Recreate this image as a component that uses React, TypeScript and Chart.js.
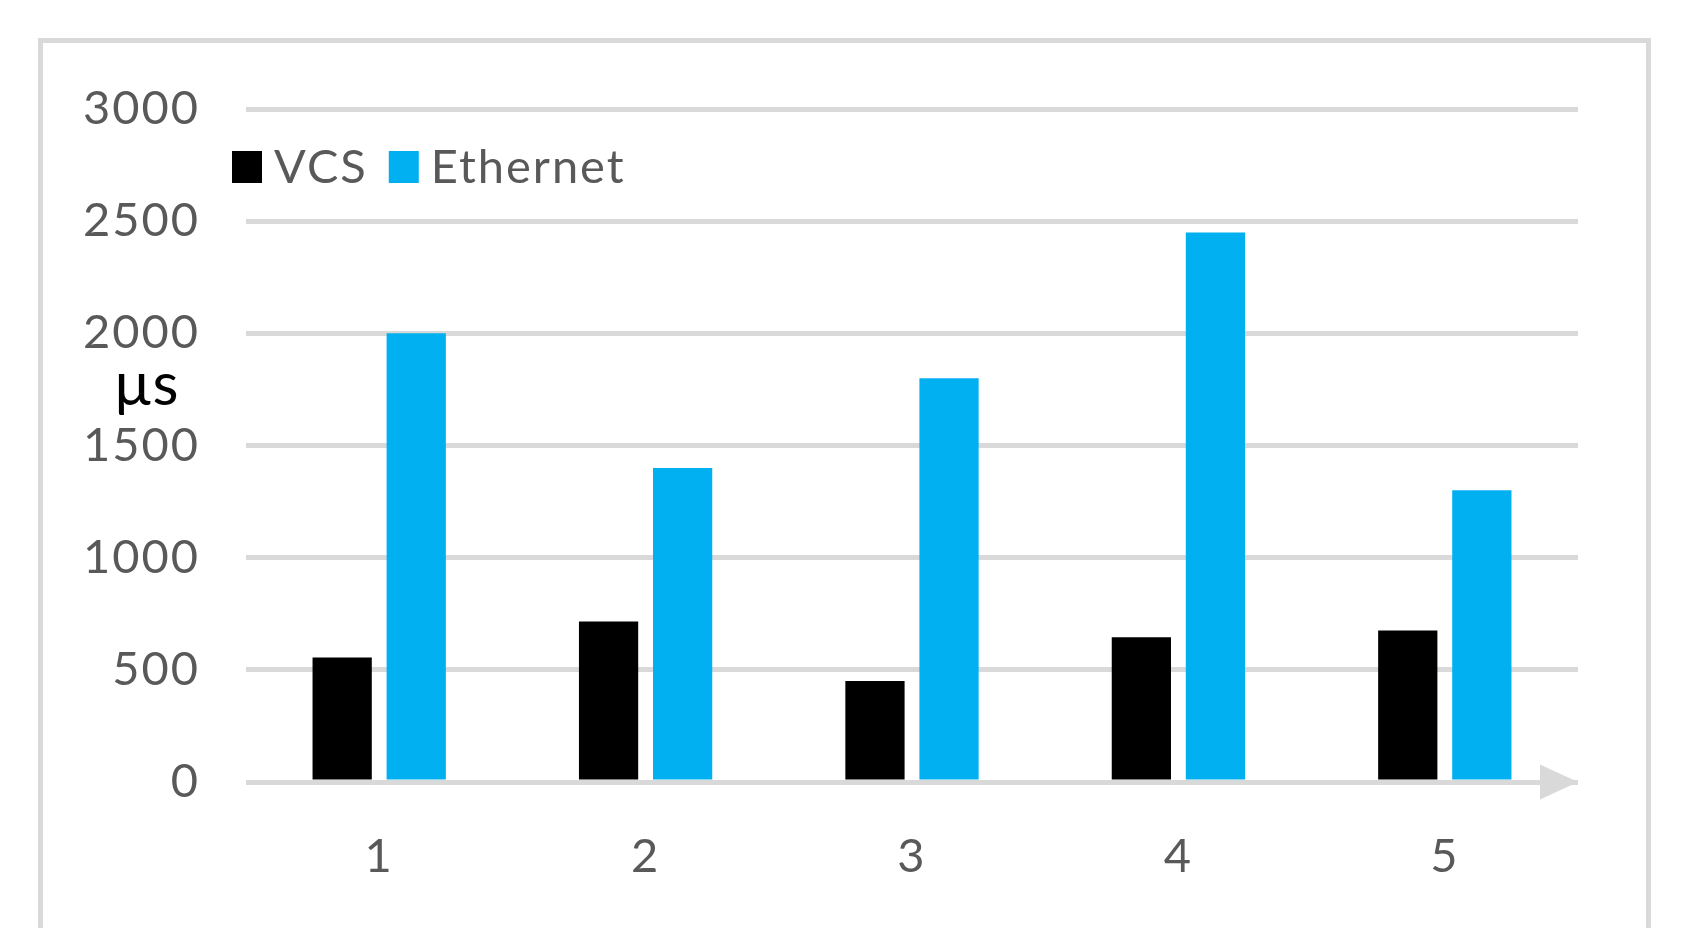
import React, { useEffect, useRef } from "react";
import { Chart, registerables } from "chart.js";

Chart.register(...registerables);

const categories = ["1", "2", "3", "4", "5"];
const vcsValues = [555, 715, 450, 645, 675];
const ethernetValues = [2000, 1400, 1800, 2450, 1300];
const seriesNames = ["VCS", "Ethernet"];
const seriesColors = ["#000000", "#00B0F0"];
const yMin = 0;
const yMax = 3000;
const yStep = 500;
const yAxisTitle = "µs";

const FONT = "Lato, 'Open Sans', sans-serif";
const GRID = "#d9d9d9";
const TEXT = "#595959";

const overlayPlugin = {
  id: "overlay",
  beforeDraw(chart: any) {
    const ctx = chart.ctx as any;
    ctx.letterSpacing = "2px";
  },
  beforeDatasetsDraw(chart: any) {
    const { ctx, chartArea, scales } = chart;
    const y0 = scales.y.getPixelForValue(0);
    ctx.save();
    ctx.fillStyle = GRID;
    ctx.beginPath();
    ctx.moveTo(chartArea.right, y0);
    ctx.lineTo(chartArea.right - 38, y0 - 17.5);
    ctx.lineTo(chartArea.right - 38, y0 + 17.5);
    ctx.closePath();
    ctx.fill();
    ctx.restore();
  },
  afterDraw(chart: any) {
    const { chartArea } = chart;
    const ctx = chart.ctx as any;
    ctx.save();
    // legend
    ctx.font = `47px ${FONT}`;
    ctx.letterSpacing = "2px";
    ctx.textBaseline = "middle";
    ctx.textAlign = "left";
    let x = chartArea.left - 14;
    const cy = chartArea.top + 58;
    chart.data.datasets.forEach((ds: any) => {
      ctx.fillStyle = ds.backgroundColor;
      ctx.fillRect(x, cy - 16, 30, 32);
      x += 30 + 12;
      ctx.fillStyle = TEXT;
      ctx.fillText(ds.label, x, cy + 1);
      x += ctx.measureText(ds.label).width + 21;
    });
    // y axis title
    ctx.letterSpacing = "0px";
    ctx.font = `60px ${FONT}`;
    ctx.fillStyle = "#000000";
    ctx.textAlign = "center";
    ctx.textBaseline = "alphabetic";
    ctx.fillText(yAxisTitle, 146, 405);
    ctx.restore();
  },
};

export default function App() {
  const ref = useRef<HTMLCanvasElement | null>(null);

  useEffect(() => {
    if (!ref.current) return;
    const chart = new Chart(ref.current, {
      type: "bar",
      data: {
        labels: categories,
        datasets: [
          {
            label: seriesNames[0],
            data: vcsValues,
            backgroundColor: seriesColors[0],
            borderWidth: 0,
            barPercentage: 0.8,
            categoryPercentage: 0.556,
          },
          {
            label: seriesNames[1],
            data: ethernetValues,
            backgroundColor: seriesColors[1],
            borderWidth: 0,
            barPercentage: 0.8,
            categoryPercentage: 0.556,
          },
        ],
      },
      options: {
        animation: false,
        responsive: false,
        devicePixelRatio: 1,
        layout: { padding: { left: 85, right: 129, top: 109, bottom: 68 } },
        plugins: {
          legend: { display: false },
          tooltip: { enabled: false },
        },
        scales: {
          x: {
            grid: { display: false, drawTicks: false },
            border: { display: false },
            ticks: {
              color: TEXT,
              font: { family: FONT, size: 47 },
              padding: 47,
            },
            afterFit: (scale: any) => {
              scale.height = 100;
            },
          },
          y: {
            min: yMin,
            max: yMax,
            grid: { color: GRID, lineWidth: 5, drawTicks: false },
            border: { display: false },
            ticks: {
              stepSize: yStep,
              color: TEXT,
              font: { family: FONT, size: 47 },
              padding: 46,
              callback: (v: any) => String(v),
            },
            afterFit: (scale: any) => {
              scale.width = 161;
            },
          },
        },
      },
      plugins: [overlayPlugin],
    });
    return () => chart.destroy();
  }, []);

  return (
    <div
      style={{
        position: "fixed",
        left: 0,
        top: 0,
        width: 1707,
        height: 950,
        background: "#ffffff",
        overflow: "hidden",
      }}
    >
      <div
        style={{
          position: "absolute",
          left: 38,
          top: 38,
          width: 1613,
          height: 890,
          boxSizing: "border-box",
          borderStyle: "solid",
          borderColor: GRID,
          borderWidth: "5px 5px 0 5px",
        }}
      />
      <canvas
        ref={ref}
        width={1707}
        height={950}
        style={{ position: "absolute", left: 0, top: 0, display: "block" }}
      />
    </div>
  );
}
